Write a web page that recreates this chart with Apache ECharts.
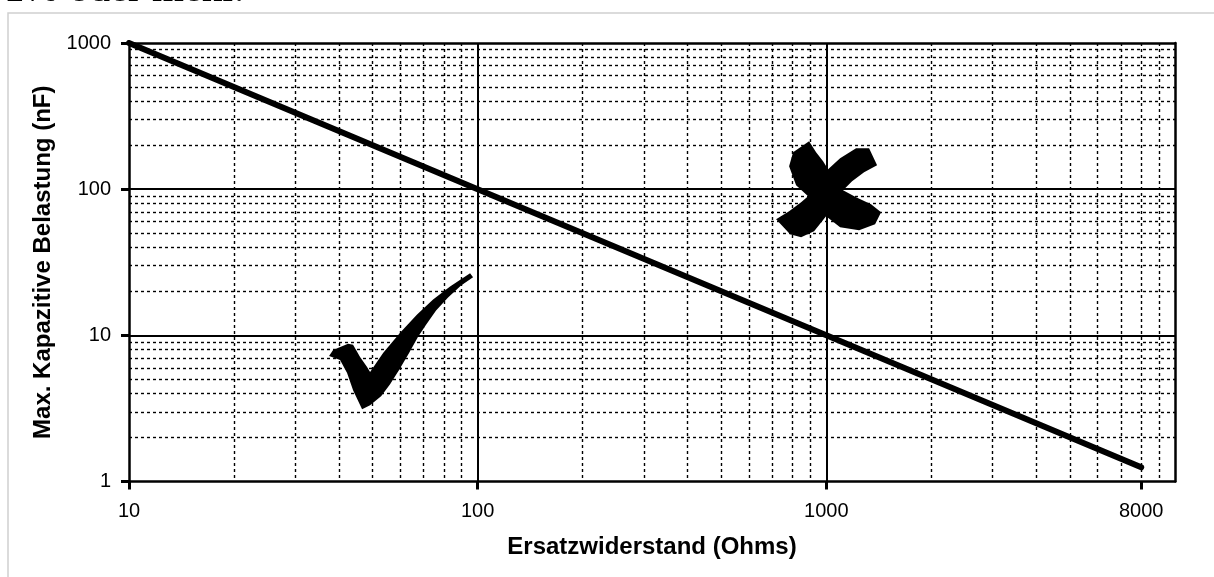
<!DOCTYPE html>
<html>
<head>
<meta charset="utf-8">
<style>
  html, body { margin: 0; padding: 0; background: #fff; }
  #main { width: 1214px; height: 577px; }
</style>
<script src="https://cdn.jsdelivr.net/npm/echarts/dist/echarts.min.js"></script>
</head>
<body>
<div id="main"></div>
<script>
// Ersatzwiderstand (Ohms) vs. max. kapazitive Belastung (nF)
var resistance = [10, 100, 1000, 8000];
var capacitance = [1000, 100, 10, 1.25];

var xLabelValues = [10, 100, 1000, 8000];
var xMajor = [100, 1000];
var xMinor = [20, 30, 40, 50, 60, 70, 80, 90, 200, 300, 400, 500, 600, 700, 800, 900,
  2000, 3000, 4000, 5000, 6000, 7000, 8000, 9000];
var yLabelValues = [1, 10, 100, 1000];
var yMajor = [10, 100];
var yMinor = [2, 3, 4, 5, 6, 7, 8, 9, 20, 30, 40, 50, 60, 70, 80, 90, 200, 300, 400, 500, 600, 700, 800, 900];

// marker positions (data coords)
var okMark = [60.3, 9.1];
var badMark = [1015, 100];

var checkPath = 'path://M0 83 L4 77 L19 71 L24 72 L31 84 L38 94 L41 99 L54 80 L71 60 L88 42 L104 27 L121 14 L141 1 L144 5 L132 13 L119 25 L107 38 L97 52 L89 64 L80 80 L70 97 L61 111 L52 123 L41 132 L33 136 L24 117 L18 100 L11 87 Z';
var crossPath = 'path://M33 0 L40 11 L47 20 L52 28 L64 17 L80 7 L93 7 L101 24 L88 31 L76 40 L67 49 L80 56 L95 63 L105 71 L99 83 L83 89 L64 86 L50 75 L38 90 L25 96 L14 93 L0 78 L13 70 L25 61 L32 55 L20 44 L13 25 L17 11 Z';

var FONT = 'Arial, "Liberation Sans", sans-serif';

var chartDom = document.getElementById('main');
var myChart = echarts.init(chartDom);
var option;

function gridAxis(values, lineStyle, extra) {
  return Object.assign({
    type: 'log',
    logBase: 10,
    axisLine: { show: false },
    axisTick: { show: false, customValues: values },
    axisLabel: { show: false, customValues: values },
    splitLine: { show: true, lineStyle: lineStyle },
    silent: true
  }, extra);
}

function plain(v) { return String(v); }

var dotted = { color: '#000', width: 1.4, type: [3, 3] };
var solid = { color: '#000', width: 2 };

option = {
  backgroundColor: '#fff',
  animation: false,
  graphic: [
    {
      type: 'rect',
      shape: { x: 8, y: 13, width: 1400, height: 700 },
      style: { fill: 'none', stroke: '#d0d0d0', lineWidth: 1.5 },
      silent: true
    },
    {
      type: 'text',
      x: 4,
      y: 11,
      z: 100,
      style: {
        text: '1% oder mehr.',
        font: '41px "Liberation Serif", "Times New Roman", serif',
        fill: '#000',
        verticalAlign: 'bottom'
      },
      silent: true
    }
  ],
  grid: { left: 129, right: 39, top: 43, bottom: 95.5 },
  xAxis: [
    {
      type: 'log',
      logBase: 10,
      min: 10,
      max: 10000,
      position: 'bottom',
      name: 'Ersatzwiderstand (Ohms)',
      nameLocation: 'middle',
      nameGap: 54,
      nameTextStyle: { fontFamily: FONT, fontSize: 24, fontWeight: 'bold', color: '#000' },
      axisLine: { show: true, lineStyle: { color: '#000', width: 2.5 } },
      axisTick: { show: true, customValues: xLabelValues, length: 8, lineStyle: { color: '#000', width: 3 } },
      axisLabel: { customValues: xLabelValues, formatter: plain, fontFamily: FONT, fontSize: 20, color: '#000', margin: 20 },
      splitLine: { show: false }
    },
    gridAxis(xMajor, solid, { min: 10, max: 10000, position: 'top',
      axisLine: { show: true, onZero: false, lineStyle: { color: '#000', width: 2.5 } } }),
    gridAxis(xMinor, dotted, { min: 10, max: 10000, position: 'bottom' })
  ],
  yAxis: [
    {
      type: 'log',
      logBase: 10,
      min: 1,
      max: 1000,
      position: 'left',
      name: 'Max. Kapazitive Belastung (nF)',
      nameLocation: 'middle',
      nameGap: 74,
      nameTextStyle: { fontFamily: FONT, fontSize: 24, fontWeight: 'bold', color: '#000' },
      axisLine: { show: true, lineStyle: { color: '#000', width: 2.5 } },
      axisTick: { show: true, customValues: yLabelValues, length: 8, lineStyle: { color: '#000', width: 3 } },
      axisLabel: { customValues: yLabelValues, formatter: plain, fontFamily: FONT, fontSize: 20, color: '#000', margin: 18 },
      splitLine: { show: false }
    },
    gridAxis(yMajor, solid, { min: 1, max: 1000, position: 'right',
      axisLine: { show: true, onZero: false, lineStyle: { color: '#000', width: 2.5 } } }),
    gridAxis(yMinor, dotted, { min: 1, max: 1000, position: 'left' })
  ],
  series: [
    {
      type: 'line',
      xAxisIndex: 0,
      yAxisIndex: 0,
      data: resistance.map(function (r, i) { return [r, capacitance[i]]; }),
      showSymbol: false,
      symbol: 'none',
      lineStyle: { color: '#000', width: 6, cap: 'round' },
      z: 10,
      markPoint: {
        silent: true,
        label: { show: false },
        itemStyle: { color: '#000' },
        data: [
          { coord: okMark, symbol: checkPath, symbolSize: [144, 136] },
          { coord: badMark, symbol: crossPath, symbolSize: [105, 96] }
        ]
      }
    }
  ]
};

option && myChart.setOption(option);
</script>
</body>
</html>
